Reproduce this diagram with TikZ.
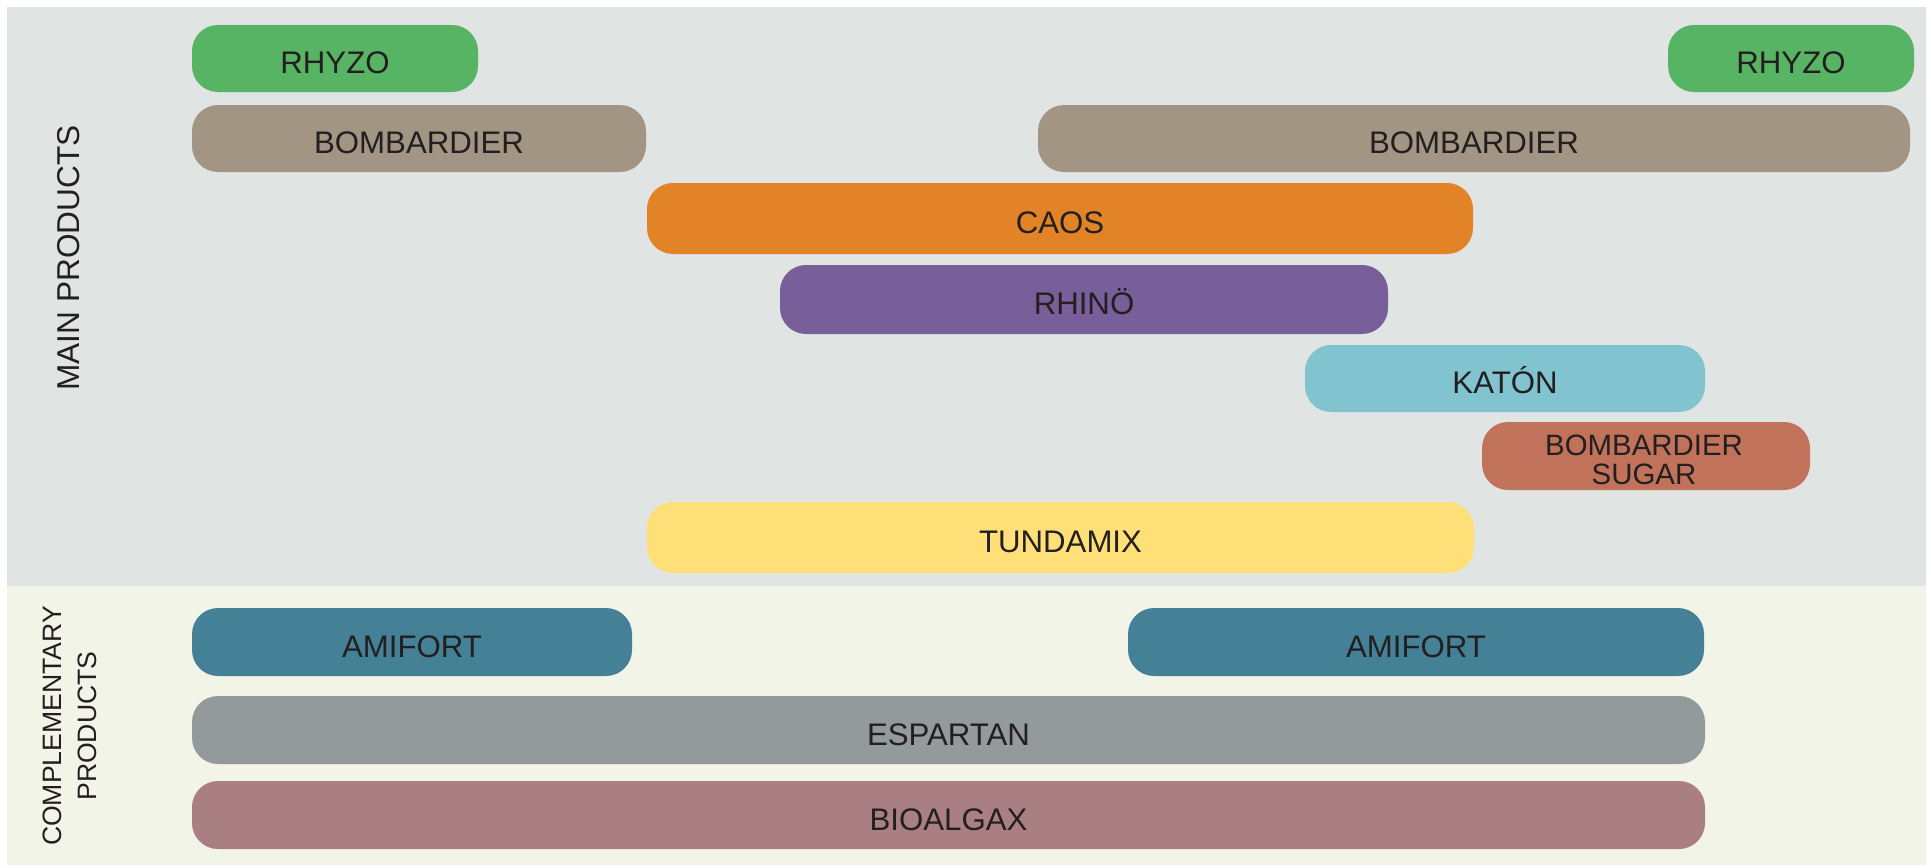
\documentclass[tikz,border=0pt]{standalone}
\usepackage{fontspec}
\setmainfont{Liberation Sans}
\usepackage{xcolor}

\definecolor{mainbg}{HTML}{E0E4E3}
\definecolor{compbg}{HTML}{F2F4E8}
\definecolor{labeltext}{HTML}{231F20}
\definecolor{rhyzogreen}{HTML}{57B464}
\definecolor{bombgray}{HTML}{A39583}
\definecolor{caosorange}{HTML}{E28328}
\definecolor{rhinopurple}{HTML}{785F9A}
\definecolor{katonblue}{HTML}{82C3D0}
\definecolor{sugarred}{HTML}{C0725B}
\definecolor{tundayellow}{HTML}{FFE078}
\definecolor{amiteal}{HTML}{448196}
\definecolor{espgray}{HTML}{929A9C}
\definecolor{biomauve}{HTML}{AA7F84}

\begin{document}
\begin{tikzpicture}[x=0.5pt, y=-0.5pt,
  prodbar/.style={rounded corners=13pt},
  prodlabel/.style={text=labeltext, inner sep=0pt, font=\fontsize{15.6}{18}\selectfont, text height=11.2pt, text depth=0pt},
  sidelabel/.style={text=labeltext, inner sep=0pt, rotate=90, align=center}]

\useasboundingbox (0,0) rectangle (1931,867);
\fill[white] (0,0) rectangle (1931,867);

% panels
\fill[mainbg] (7,7) rectangle (1926,586);
\fill[compbg] (7,586) rectangle (1926,865);

\node[sidelabel, font=\fontsize{15.8}{18}\selectfont] (mainlabel) at (69,258) {MAIN PRODUCTS};
\node[sidelabel, font=\fontsize{13.3}{17.25}\selectfont] (complabel) at (70,726) {COMPLEMENTARY\\PRODUCTS};

% product bars
\foreach \nm/\xa/\xb/\ya/\yb/\col/\lbl in {rhyzoA/192/478/25/92/rhyzogreen/RHYZO,
  rhyzoB/1668/1914/25/92/rhyzogreen/RHYZO,
  bombA/192/646/105/172/bombgray/BOMBARDIER,
  bombB/1038/1910/105/172/bombgray/BOMBARDIER,
  caos/647/1473/183/254/caosorange/CAOS,
  rhino/780/1388/265/334/rhinopurple/RHINÖ,
  katon/1305/1705/345/412/katonblue/KATÓN,
  tunda/647/1474/502/573/tundayellow/TUNDAMIX,
  amiA/192/632/608/676/amiteal/AMIFORT,
  amiB/1128/1704/608/676/amiteal/AMIFORT,
  espartan/192/1705/696/764/espgray/ESPARTAN,
  bioalgax/192/1705/781/849/biomauve/BIOALGAX}
{
\fill[prodbar, \col] (\xa,\ya) rectangle (\xb,\yb);
\node[prodlabel] (\nm) at ({(\xa+\xb)/2},{(\ya+\yb)/2+4}) {\lbl};
}

\fill[prodbar, sugarred] (1482,422) rectangle (1810,490);
\node[text=labeltext, inner sep=0pt, align=center, font=\fontsize{14.7}{14.2}\selectfont] (sugar) at (1644,460) {BOMBARDIER\\SUGAR};

\end{tikzpicture}
\end{document}
